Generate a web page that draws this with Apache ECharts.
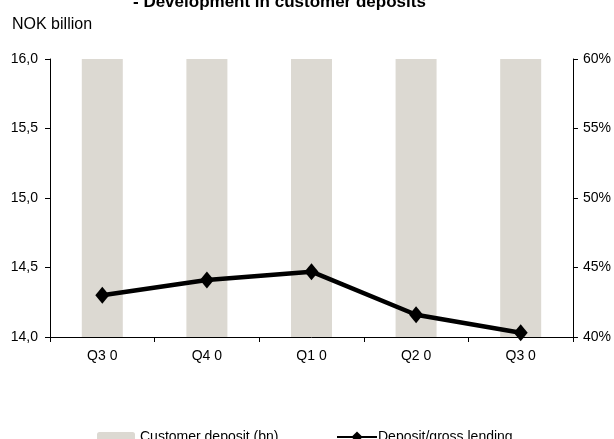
<!DOCTYPE html>
<html>
<head>
<meta charset="utf-8">
<script src="https://cdn.jsdelivr.net/npm/echarts@6/dist/echarts.min.js"></script>
<style>
  html, body { margin: 0; padding: 0; background: #fff; }
  #chart { width: 614px; height: 439px; }
</style>
</head>
<body>
<div id="chart"></div>
<script>
const quarters = ["Q3 0", "Q4 0", "Q1 0", "Q2 0", "Q3 0"];
// bars run past the top of the axis, so their heights cannot be read
const customerDeposit = [16.9, 17.2, 17.5, 17.8, 18.1];
const depositRatio = [43.0, 44.1, 44.7, 41.6, 40.3];

const font = "'Liberation Sans Narrow', 'Liberation Sans', Arial, sans-serif";

const chart = echarts.init(document.getElementById("chart"));

chart.setOption({
    animation: false,
    textStyle: { fontFamily: font },
    title: [
        {
            text: "- Development in customer deposits",
            left: 128,
            top: -11,
            textStyle: { fontFamily: "'Liberation Sans', Arial, sans-serif", fontSize: 17, fontWeight: "bold", color: "#000" }
        },
        {
            text: "NOK billion",
            left: 7,
            top: 12,
            textStyle: { fontFamily: font, fontSize: 16, fontWeight: "normal", color: "#000" }
        }
    ],
    legend: [
        {
            data: ["Customer deposit (bn)"],
            left: 92,
            top: 425,
            itemWidth: 38,
            itemHeight: 10,
            itemGap: 4,
            textStyle: { fontSize: 14, color: "#000", fontFamily: font }
        },
        {
            data: ["Deposit/gross lending"],
            left: 331,
            top: 425,
            itemWidth: 40,
            itemHeight: 14,
            itemGap: 0,
            textStyle: { fontSize: 14, color: "#000", fontFamily: font, padding: [0, 0, 0, -4] }
        }
    ],
    grid: {
        left: 50,
        right: 41,
        top: 59,
        bottom: 102
    },
    xAxis: {
        type: "category",
        data: quarters,
        axisLine: { lineStyle: { color: "#000", width: 1 } },
        axisTick: { show: true, length: 5, lineStyle: { color: "#000" } },
        axisLabel: { color: "#000", fontSize: 14, margin: 12 }
    },
    yAxis: [
        {
            type: "value",
            min: 14,
            max: 16,
            interval: 0.5,
            splitLine: { show: false },
            axisLine: { show: true, lineStyle: { color: "#000" } },
            axisTick: { show: true, length: 5, lineStyle: { color: "#000" } },
            axisLabel: {
                color: "#000",
                fontSize: 14,
                margin: 12,
                formatter: v => v.toFixed(1).replace(".", ",")
            }
        },
        {
            type: "value",
            min: 40,
            max: 60,
            interval: 5,
            position: "right",
            splitLine: { show: false },
            axisLine: { show: true, lineStyle: { color: "#000" } },
            axisTick: { show: true, length: 5, lineStyle: { color: "#000" } },
            axisLabel: {
                color: "#000",
                fontSize: 14,
                margin: 10,
                formatter: v => v + "%"
            }
        }
    ],
    series: [
        {
            name: "Customer deposit (bn)",
            type: "bar",
            yAxisIndex: 0,
            barWidth: 41,
            itemStyle: { color: "#dcd9d2" },
            data: customerDeposit
        },
        {
            name: "Deposit/gross lending",
            type: "line",
            yAxisIndex: 1,
            symbol: "diamond",
            symbolSize: [14, 17],
            lineStyle: { color: "#000", width: 4.5 },
            itemStyle: { color: "#000" },
            data: depositRatio
        }
    ]
});
</script>
</body>
</html>
